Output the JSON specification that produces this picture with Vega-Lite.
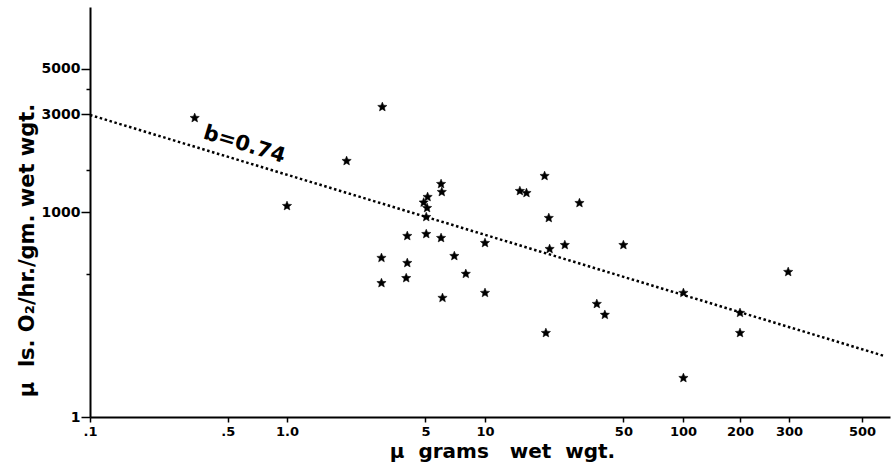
{
  "$schema": "https://vega.github.io/schema/vega-lite/v6.json",
  "autosize": {"type": "none"},
  "padding": {"left": 90, "top": 7, "right": 2, "bottom": 58},
  "width": 800,
  "height": 410,
  "background": "white",
  "config": {"view": {"stroke": null}},
  "datasets": {
    "points": [
      {"mass": 0.34, "rate": 2875},
      {"mass": 3.03, "rate": 3254},
      {"mass": 2.0, "rate": 1774},
      {"mass": 1.0, "rate": 1070},
      {"mass": 6.0, "rate": 1370},
      {"mass": 6.05, "rate": 1252},
      {"mass": 5.13, "rate": 1184},
      {"mass": 4.9, "rate": 1112},
      {"mass": 5.1, "rate": 1046},
      {"mass": 5.05, "rate": 945},
      {"mass": 4.05, "rate": 764},
      {"mass": 5.05, "rate": 781},
      {"mass": 6.0, "rate": 747},
      {"mass": 3.0, "rate": 597},
      {"mass": 4.05, "rate": 564},
      {"mass": 7.0, "rate": 610},
      {"mass": 8.0, "rate": 499},
      {"mass": 3.0, "rate": 450},
      {"mass": 4.0, "rate": 476},
      {"mass": 6.1, "rate": 381},
      {"mass": 10.0, "rate": 706},
      {"mass": 10.0, "rate": 403},
      {"mass": 20.0, "rate": 1499},
      {"mass": 15.0, "rate": 1266},
      {"mass": 16.2, "rate": 1238},
      {"mass": 30.0, "rate": 1106},
      {"mass": 21.0, "rate": 935},
      {"mass": 21.2, "rate": 660},
      {"mass": 25.3, "rate": 690},
      {"mass": 50.0, "rate": 690},
      {"mass": 36.7, "rate": 356},
      {"mass": 40.3, "rate": 315},
      {"mass": 20.3, "rate": 257},
      {"mass": 100.5, "rate": 403},
      {"mass": 298, "rate": 510},
      {"mass": 200, "rate": 322},
      {"mass": 200, "rate": 257},
      {"mass": 100.5, "rate": 155}
    ],
    "fit": [
      {"mass": 0.1, "rate": 2974},
      {"mass": 659, "rate": 198}
    ],
    "label": [
      {"mass": 0.608, "rate": 2124, "text": "b=0.74"}
    ]
  },
  "layer": [
    {
      "data": {"name": "fit"},
      "mark": {"type": "line", "color": "black", "strokeWidth": 2.5, "strokeDash": [2.5, 2.6]},
      "encoding": {
        "x": {
          "field": "mass",
          "type": "quantitative",
          "scale": {
            "type": "log",
            "domain": [0.1, 1, 10, 100, 200, 300, 500, 700],
            "range": [0, 197, 395, 593, 650, 699, 772, 800],
            "nice": false
          },
          "axis": {
            "values": [0.1, 0.5, 1, 5, 10, 50, 100, 200, 300, 500],
            "labelExpr": "datum.value == 0.1 ? '.1' : datum.value == 0.5 ? '.5' : datum.value == 1 ? '1.0' : format(datum.value, 'd')",
            "grid": false,
            "domainColor": "black",
            "domainWidth": 2,
            "tickColor": "black",
            "tickWidth": 1.5,
            "tickSize": 5,
            "labelFont": "DejaVu Sans",
            "labelFontWeight": "bold",
            "labelFontSize": 13,
            "labelColor": "black",
            "labelPadding": 3,
            "labelFlush": false,
            "labelOverlap": false,
            "title": "μ\u00a0\u00a0grams\u00a0\u00a0\u00a0wet\u00a0\u00a0wgt.",
            "titleFont": "DejaVu Sans",
            "titleFontWeight": "bold",
            "titleFontSize": 20,
            "titleColor": "black",
            "titleX": 412,
            "titleY": 40,
            "titleAlign": "center",
            "titleBaseline": "alphabetic"
          }
        },
        "y": {
          "field": "rate",
          "type": "quantitative",
          "scale": {"type": "log", "domain": [100, 10000], "nice": false},
          "axis": {
            "values": [100, 500, 1000, 1600, 3000, 4000, 5000],
            "labelExpr": "datum.value == 100 ? '1' : indexof([1000, 3000, 5000], datum.value) >= 0 ? format(datum.value, 'd') : ''",
            "grid": false,
            "domainColor": "black",
            "domainWidth": 2,
            "tickColor": "black",
            "tickWidth": 1.5,
            "tickSize": {"condition": {"test": "indexof([500, 1600, 4000], datum.value) >= 0", "value": 4}, "value": 9},
            "labelFont": "DejaVu Sans",
            "labelFontWeight": "bold",
            "labelFontSize": 14,
            "labelColor": "black",
            "labelPadding": 1,
            "labelOverlap": false,
            "title": "μ\u00a0\u00a0ls. O₂/hr./gm.\u00a0wet\u00a0wgt.",
            "titleFont": "DejaVu Sans",
            "titleFontWeight": "bold",
            "titleFontSize": 21,
            "titleColor": "black",
            "titleAngle": 270,
            "titleX": -63,
            "titleY": 243,
            "titleAlign": "center",
            "titleBaseline": "middle"
          }
        }
      }
    },
    {
      "data": {"name": "points"},
      "mark": {
        "type": "point",
        "shape": "M0,-1L0.2645,-0.364L0.951,-0.309L0.428,0.139L0.588,0.809L0,0.45L-0.588,0.809L-0.428,0.139L-0.951,-0.309L-0.2645,-0.364Z",
        "filled": true,
        "color": "black",
        "opacity": 1,
        "stroke": "black",
        "strokeWidth": 0.5,
        "size": 95
      },
      "encoding": {
        "x": {"field": "mass", "type": "quantitative"},
        "y": {"field": "rate", "type": "quantitative"}
      }
    },
    {
      "data": {"name": "label"},
      "mark": {
        "type": "text",
        "angle": 17,
        "font": "DejaVu Sans",
        "fontWeight": "bold",
        "fontSize": 21,
        "color": "black",
        "align": "center",
        "baseline": "middle"
      },
      "encoding": {
        "x": {"field": "mass", "type": "quantitative"},
        "y": {"field": "rate", "type": "quantitative"},
        "text": {"field": "text", "type": "nominal"}
      }
    }
  ]
}
